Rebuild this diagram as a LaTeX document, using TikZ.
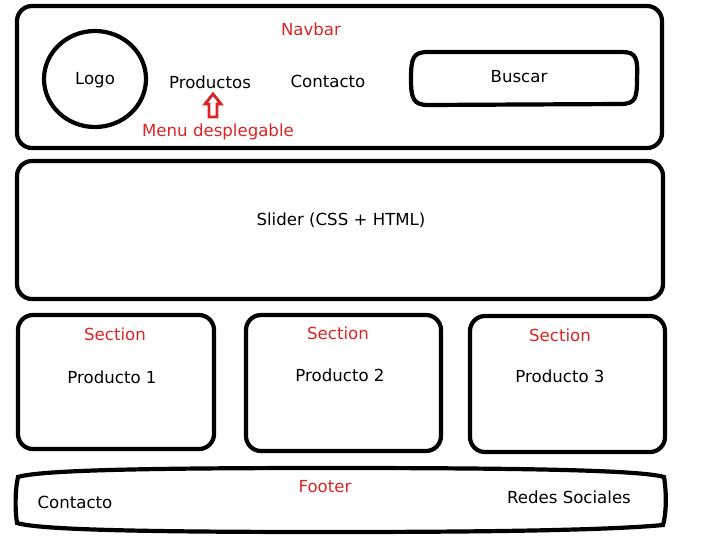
\documentclass[tikz,border=0pt]{standalone}
\usepackage{fontspec}
\setmainfont{DejaVu Sans}
\begin{document}
\begin{tikzpicture}[x=1pt,y=-1pt,
  box/.style={draw=black,line width=4.2pt,rounded corners=15pt},
  lbl/.style={font=\fontsize{16.6}{18}\selectfont,text=black,inner sep=0pt},
  red/.style={font=\fontsize{16.6}{18}\selectfont,text=redc,inner sep=0pt}]
\definecolor{redc}{RGB}{218,36,36}
\useasboundingbox (0,0) rectangle (702,539);
% Navbar
\draw[box] (17,6) rectangle (662,148);
\draw[line width=4.2pt] (95,79) ellipse [x radius=51, y radius=48];
\draw[line width=4.2pt] (428,52) -- (622,52)
  .. controls (636,52) and (638,58) .. (637,78)
  .. controls (637,98) and (636,104) .. (620,104) -- (428,105)
  .. controls (413,105) and (411,98) .. (411,79)
  .. controls (411,58) and (413,52) .. (428,52) -- cycle;
\node[red] (navbar) at (311,29) {Navbar};
\node[lbl] (logo) at (95,80) {Logo};
\node[lbl] (productos) at (210,82) {Productos};
\node[lbl] (contacto) at (328,81) {Contacto};
\node[lbl] (buscar) at (519,77) {Buscar};
\node[red] (menu) at (218,132) {Menu desplegable};
\draw[redc,line width=2.8pt,line join=miter] (213,94) -- (221,104) -- (217,104) -- (217,117) -- (209,117) -- (209,104) -- (205,104) -- cycle;
% Slider
\draw[box] (17,161) rectangle (663,299);
\node[lbl] (slider) at (341,220) {Slider (CSS + HTML)};
% Sections
\draw[box] (18,315) rectangle (214,449);
\draw[box] (246,315) rectangle (441,451);
\draw[box] (470,316) rectangle (665,452);
\node[red] (s1) at (115,334) {Section};
\node[red] (s2) at (338,333) {Section};
\node[red] (s3) at (560,335) {Section};
\node[lbl] (p1) at (112,377) {Producto 1};
\node[lbl] (p2) at (340,375) {Producto 2};
\node[lbl] (p3) at (560,376) {Producto 3};
% Footer
\draw[line width=4.2pt] (18,477) .. controls (40,470) and (150,468) .. (330,468)
  .. controls (520,468) and (640,470) .. (664,477)
  .. controls (667,495) and (666,515) .. (663,525)
  .. controls (600,531) and (450,532) .. (330,532)
  .. controls (150,532) and (40,530) .. (17,523)
  .. controls (15,510) and (15,490) .. (18,477) -- cycle;
\node[red] (footer) at (325,487) {Footer};
\node[lbl] (fcont) at (75,502) {Contacto};
\node[lbl] (redes) at (569,497) {Redes Sociales};
\end{tikzpicture}
\end{document}
